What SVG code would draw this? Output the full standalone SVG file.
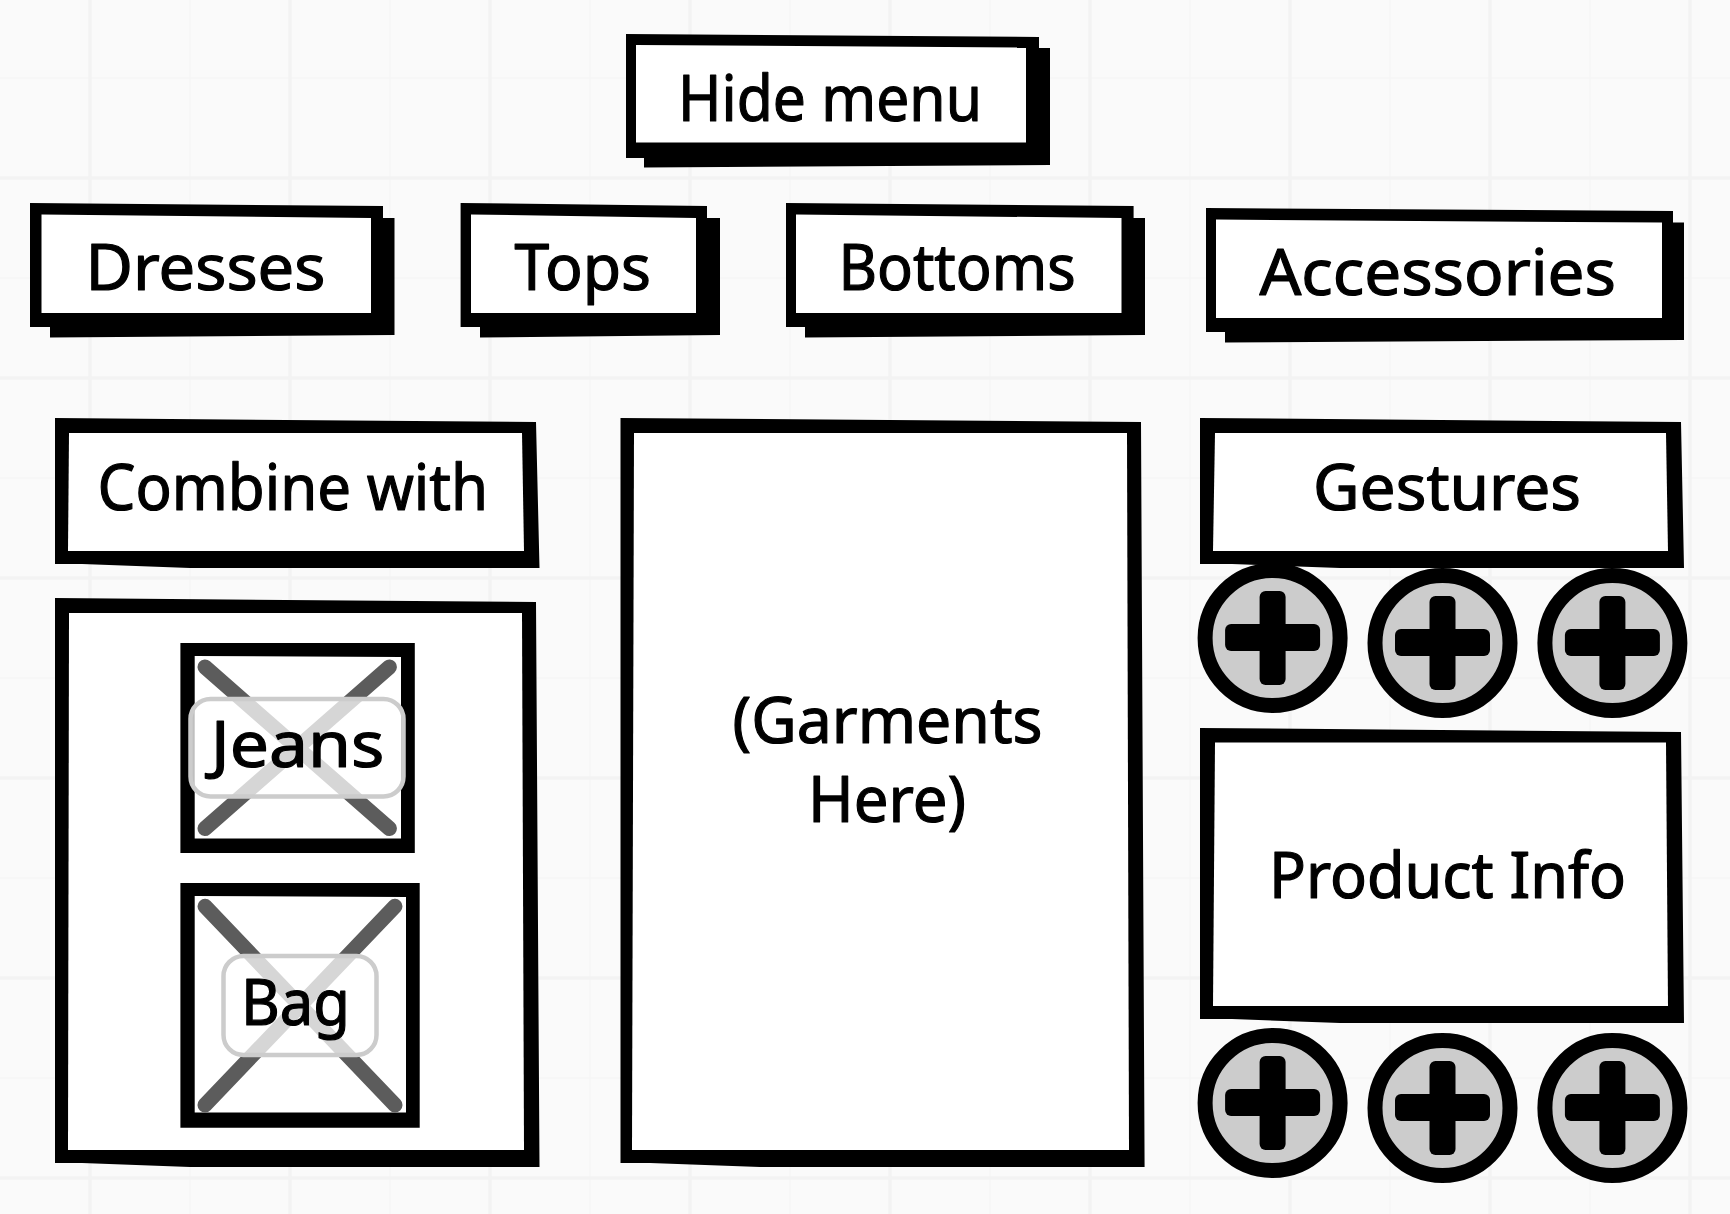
<svg xmlns="http://www.w3.org/2000/svg" width="1730" height="1214" viewBox="0 0 1730 1214">
<style>
.bg{fill:#fafafa}
.g1{stroke:#f6f6f6;stroke-width:1.5;fill:none}
.g2{stroke:#f3f3f3;stroke-width:3.5;fill:none}
.ink{fill:#000}
.paper{fill:#fff}
.t{font-family:"Noto Sans","Liberation Sans",sans-serif;font-size:64px;fill:#000;stroke:#000;stroke-width:1.2px;stroke-linejoin:round}
.x{stroke:#5c5c5c;stroke-width:15;stroke-linecap:round;fill:none}
.lab{fill:#fff;fill-opacity:.75;stroke:#ccc;stroke-width:4.5}
.btn{fill:#ccc;stroke:#000;stroke-width:15}
</style>
<defs>
<g id="plus">
<rect x="-47.5" y="-14" width="95" height="27" rx="6" class="ink"/>
<rect x="-13" y="-47" width="26" height="94" rx="6" class="ink"/>
</g>
</defs>
<rect class="bg" width="1730" height="1214"/>
<g id="grid">
<path class="g1" d="M190 0V1214M390 0V1214M590 0V1214M790 0V1214M990 0V1214M1190 0V1214M1390 0V1214M1590 0V1214M0 78H1730M0 278H1730M0 478H1730M0 678H1730M0 878H1730M0 1078H1730"/>
<path class="g2" d="M90 0V1214M290 0V1214M490 0V1214M690 0V1214M890 0V1214M1090 0V1214M1290 0V1214M1490 0V1214M1690 0V1214M0 178H1730M0 378H1730M0 578H1730M0 778H1730M0 978H1730M0 1178H1730"/>
</g>
<g id="hide-menu">
<polygon class="ink" points="644,48 1050,48 1050,165 644,167.5"/>
<polygon class="ink" points="626,34 1039,37 1039,158 626,158"/>
<polygon class="paper" points="636,45 1026,47.5 1026,142.5 636,142.5"/>
<text class="t" x="678" y="121" textLength="304" lengthAdjust="spacingAndGlyphs">Hide menu</text>
</g>
<g id="dresses">
<polygon class="ink" points="50,218 394.5,218 394.5,335 50,337.5"/>
<polygon class="ink" points="30,203 383,206 383,327 30,327"/>
<polygon class="paper" points="41.5,214.5 371,218 371,313 41.5,313"/>
<text class="t" x="85.5" y="290" textLength="240" lengthAdjust="spacingAndGlyphs">Dresses</text>
</g>
<g id="tops">
<polygon class="ink" points="480,218 720,218 720,335 480,337.5"/>
<polygon class="ink" points="460.6,203 707,206 707,327 460.6,327"/>
<polygon class="paper" points="471,214.5 696,218 696,313 471,313"/>
<text class="t" x="514.6" y="290" textLength="136.4" lengthAdjust="spacingAndGlyphs">Tops</text>
</g>
<g id="bottoms">
<polygon class="ink" points="805,218 1145,218 1145,335 805,337.5"/>
<polygon class="ink" points="786,203 1133.6,206 1133.6,327 786,327"/>
<polygon class="paper" points="796,214.5 1121.5,218 1121.5,313 796,313"/>
<text class="t" x="838.4" y="290" textLength="237.3" lengthAdjust="spacingAndGlyphs">Bottoms</text>
</g>
<g id="accessories">
<polygon class="ink" points="1225,222.6 1684,222.6 1684,340 1225,342.5"/>
<polygon class="ink" points="1206,208 1673,211 1673,332 1206,332"/>
<polygon class="paper" points="1216,219.5 1662,222.6 1662,318 1216,318"/>
<text class="t" x="1259.4" y="295" textLength="356.6" lengthAdjust="spacingAndGlyphs">Accessories</text>
</g>
<g id="combine-with">
<polygon class="ink" points="55,418 536,422 539.5,568 190,568 82,564 55,564"/>
<polygon class="paper" points="69,433 522,433 524,551 68,551"/>
<text class="t" x="97.6" y="510" textLength="390.4" lengthAdjust="spacingAndGlyphs">Combine with</text>
</g>
<g id="combine-panel">
<polygon class="ink" points="55,598 536,602 539.5,1167 190,1167 82,1163 55,1163"/>
<polygon class="paper" points="69,613 522,613 524,1150 68,1150"/>
</g>
<g id="jeans">
<polygon class="ink" points="180.4,643 414.8,643 414.8,853 180.4,853"/>
<polygon class="paper" points="194.7,656 401,657 401,838.5 194.7,838.5"/>
<path class="x" d="M205 667L389.4 828.5M389.4 667L205 828.5"/>
<rect class="lab" x="190.5" y="699" width="213" height="97.5" rx="20"/>
<text class="t" x="210.7" y="766.5" textLength="173.7" lengthAdjust="spacingAndGlyphs">Jeans</text>
</g>
<g id="bag">
<polygon class="ink" points="180.4,883 419.7,883 419.7,1127.7 180.4,1127.7"/>
<polygon class="paper" points="194.7,896 406,897 406,1112.5 194.7,1112.5"/>
<path class="x" d="M205 906.3L395 1105M395 906.3L205 1105"/>
<rect class="lab" x="223.5" y="956" width="153" height="99" rx="20"/>
<text class="t" x="241" y="1025" textLength="109" lengthAdjust="spacingAndGlyphs">Bag</text>
</g>
<g id="garments">
<polygon class="ink" points="620.5,418 1141,422 1144.6,1167 760,1167 650,1163 620.5,1163"/>
<polygon class="paper" points="634,433 1127,433 1129,1150 632,1150"/>
<text class="t" x="732.5" y="743" textLength="310" lengthAdjust="spacingAndGlyphs">(Garments</text>
<text class="t" x="808" y="822" textLength="158" lengthAdjust="spacingAndGlyphs">Here)</text>
</g>
<g id="gestures">
<polygon class="ink" points="1200,418 1681,422 1684,568 1340,568 1232,564 1200,564"/>
<polygon class="paper" points="1215,433 1666,433 1668,551 1213,551"/>
<text class="t" x="1313" y="509.5" textLength="268" lengthAdjust="spacingAndGlyphs">Gestures</text>
</g>
<g id="product-info">
<polygon class="ink" points="1200,728 1681,732 1684,1023 1340,1023 1232,1019 1200,1019"/>
<polygon class="paper" points="1215,742.5 1666,742.5 1668,1006 1213,1006"/>
<text class="t" x="1269" y="898" textLength="357" lengthAdjust="spacingAndGlyphs">Product Info</text>
</g>
<g id="btn-1"><circle class="btn" cx="1272.6" cy="638" r="67.5"/><use href="#plus" x="1272.6" y="638"/></g>
<g id="btn-2"><circle class="btn" cx="1442.5" cy="643" r="67.5"/><use href="#plus" x="1442.5" y="643"/></g>
<g id="btn-3"><circle class="btn" cx="1612.4" cy="643" r="67.5"/><use href="#plus" x="1612.4" y="643"/></g>
<g id="btn-4"><circle class="btn" cx="1272.6" cy="1103" r="67.5"/><use href="#plus" x="1272.6" y="1103"/></g>
<g id="btn-5"><circle class="btn" cx="1442.5" cy="1108" r="67.5"/><use href="#plus" x="1442.5" y="1108"/></g>
<g id="btn-6"><circle class="btn" cx="1612.4" cy="1108" r="67.5"/><use href="#plus" x="1612.4" y="1108"/></g>
</svg>
